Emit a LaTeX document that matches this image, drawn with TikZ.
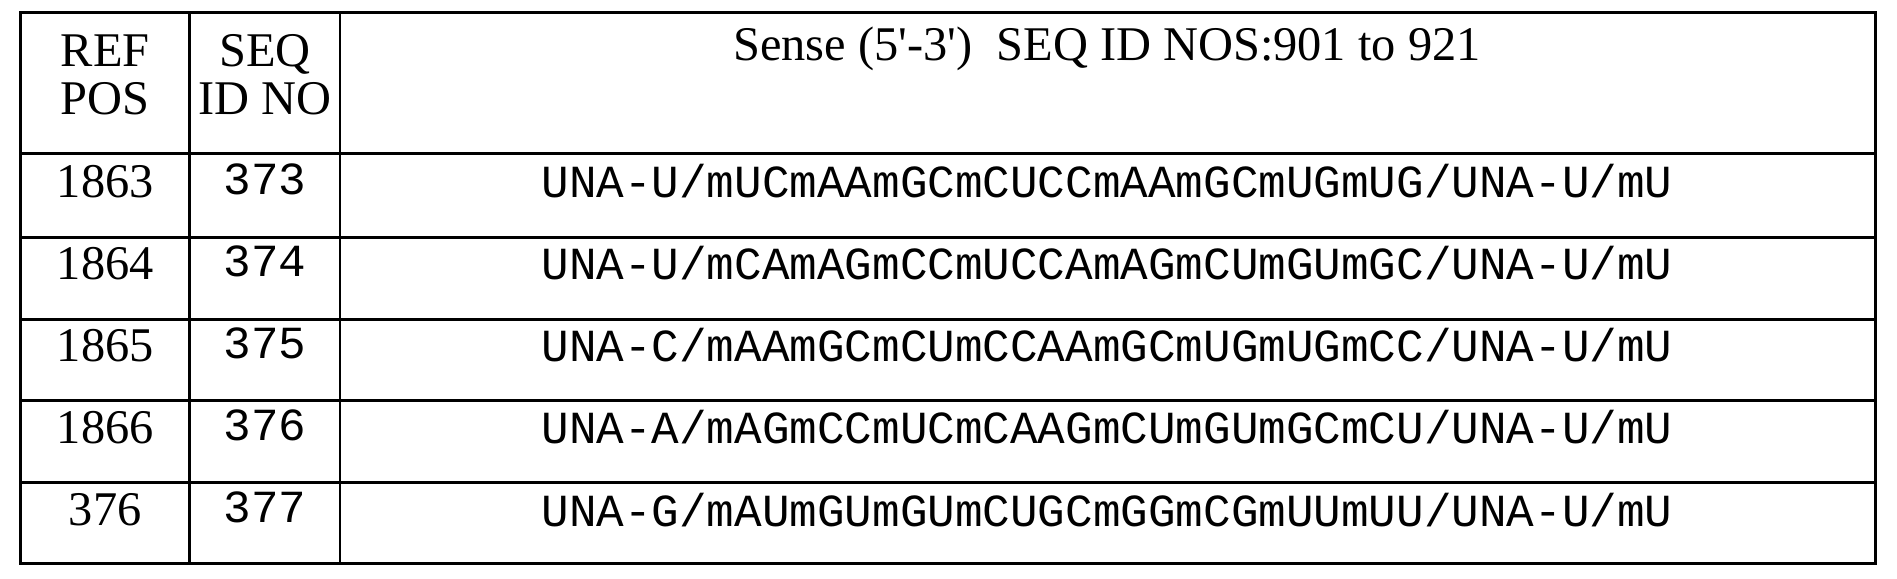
\documentclass[tikz,border=0pt]{standalone}
\usepackage{fontspec}
\usepackage{textcomp}
\setmainfont{Liberation Serif}
\newfontfamily\monof{Liberation Mono}
\begin{document}
\begin{tikzpicture}[x=0.5pt,y=-0.5pt,
  cell/.style={inner sep=0pt,font=\fontsize{20}{20}\selectfont},
  mono/.style={inner sep=0pt,font=\monof\fontsize{19}{21}\selectfont},
  rule/.style={line width=1.2pt}]
\useasboundingbox (0,0) rectangle (1568,478);
\draw[rule] (17,10) rectangle (1550,466);
\foreach \x in {157,281} \draw[rule] (\x,10) -- (\x,466);
\foreach \y in {127,196,264,331,399} \draw[rule] (17,\y) -- (1550,\y);
\node[cell,align=center] (h1) at (87,62) {REF\\POS};
\node[cell,align=center] (h2) at (219,62) {SEQ\\ID NO};
\node[cell] (h3) at (915,40) {Sense (5\textquotesingle-3\textquotesingle)\ \ SEQ ID NOS:901 to 921};
\foreach \r/\a/\b in {0/1863/373,1/1864/374,2/1865/375,3/1866/376,4/376/377}{
  \pgfmathsetmacro\yy{150+67.8*\r}
  \node[cell] (a\r) at (87,\yy) {\a};
  \node[mono] (b\r) at (219,\yy-2) {\b};
}
\node[mono] (s0) at (915,150) {UNA-U/mUCmAAmGCmCUCCmAAmGCmUGmUG/UNA-U/mU};
\node[mono] (s1) at (915,217.8) {UNA-U/mCAmAGmCCmUCCAmAGmCUmGUmGC/UNA-U/mU};
\node[mono] (s2) at (915,285.6) {UNA-C/mAAmGCmCUmCCAAmGCmUGmUGmCC/UNA-U/mU};
\node[mono] (s3) at (915,353.4) {UNA-A/mAGmCCmUCmCAAGmCUmGUmGCmCU/UNA-U/mU};
\node[mono] (s4) at (915,421.2) {UNA-G/mAUmGUmGUmCUGCmGGmCGmUUmUU/UNA-U/mU};
\end{tikzpicture}
\end{document}
